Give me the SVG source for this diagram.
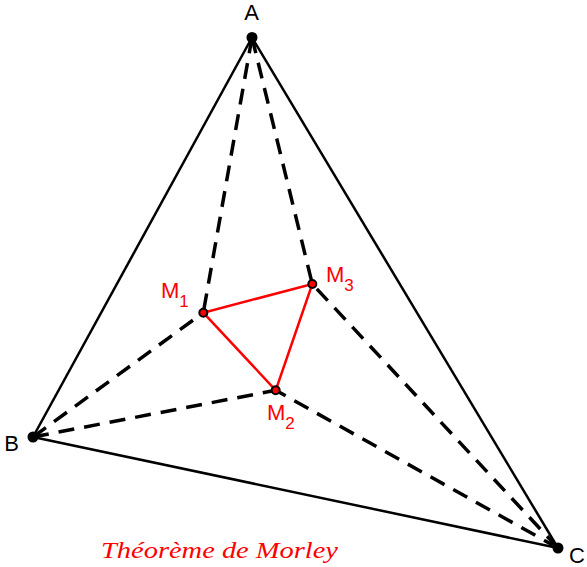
<svg xmlns="http://www.w3.org/2000/svg" width="587" height="567" viewBox="0 0 587 567">
<style>
.side{stroke:#000;stroke-width:2.5;fill:none}
.dash{stroke:#000;stroke-width:3.5;fill:none;stroke-dasharray:16 10}
.red{stroke:#f00;stroke-width:2.5;fill:none}
.lbl{font-family:"Liberation Sans",Arial,sans-serif;font-size:22px;fill:#000}
.rl{font-family:"Liberation Sans",Arial,sans-serif;font-size:22px;fill:#f00}
.sub{font-size:17px}
</style>
<rect width="587" height="567" fill="#fff"/>
<g id="connectors">
<line class="side" x1="252" y1="37.5" x2="33" y2="437"/>
<line class="side" x1="252" y1="37.5" x2="558" y2="548"/>
<line class="side" x1="33" y1="437" x2="558" y2="548"/>
<line class="dash" x1="252" y1="37.5" x2="203.3" y2="312.7"/>
<line class="dash" x1="252" y1="37.5" x2="312.3" y2="284"/>
<line class="dash" x1="33" y1="437" x2="203.3" y2="312.7"/>
<line class="dash" x1="33" y1="437" x2="275.7" y2="390.3"/>
<line class="dash" x1="558" y1="548" x2="275.7" y2="390.3"/>
<line class="dash" x1="558" y1="548" x2="312.3" y2="284"/>
<polygon class="red" points="203.3,312.7 312.3,284 275.7,390.3"/>
</g>
<g id="A"><circle cx="252" cy="37.5" r="5.5" fill="#000"/><text class="lbl" x="251.5" y="20" text-anchor="middle">A</text></g>
<g id="B"><circle cx="33" cy="437" r="5.5" fill="#000"/><text class="lbl" x="11.5" y="451" text-anchor="middle">B</text></g>
<g id="C"><circle cx="558" cy="548" r="5.5" fill="#000"/><text class="lbl" x="577" y="563" text-anchor="middle">C</text></g>
<g id="M1"><circle cx="203.3" cy="312.7" r="4" fill="#f00" stroke="#000" stroke-width="2"/><text class="rl" x="161" y="298">M<tspan class="sub" dy="9">1</tspan></text></g>
<g id="M2"><circle cx="275.7" cy="390.3" r="4" fill="#f00" stroke="#000" stroke-width="2"/><text class="rl" x="267" y="420">M<tspan class="sub" dy="9">2</tspan></text></g>
<g id="M3"><circle cx="312.3" cy="284" r="4" fill="#f00" stroke="#000" stroke-width="2"/><text class="rl" x="326" y="282">M<tspan class="sub" dy="9">3</tspan></text></g>
<g id="caption"><text x="101" y="558" font-family="'Liberation Serif','Times New Roman',serif" font-style="italic" font-size="23" fill="#f00" textLength="237" lengthAdjust="spacingAndGlyphs">Théorème de Morley</text></g>
</svg>
